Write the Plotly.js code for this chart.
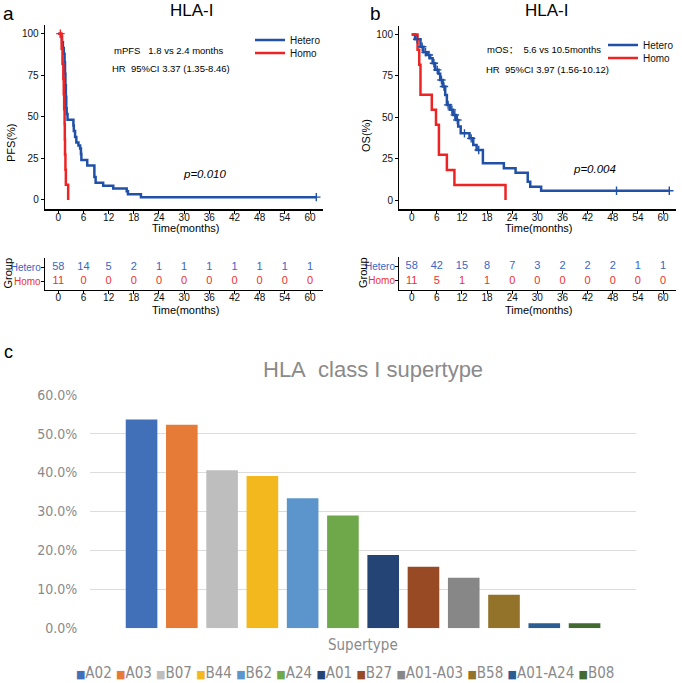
<!DOCTYPE html>
<html>
<head>
<meta charset="utf-8">
<script src="https://cdn.plot.ly/plotly-3.0.1.min.js"></script>
<style>html,body{margin:0;padding:0;background:#fff;}#chart{width:682px;height:683px;}</style>
</head>
<body>
<div id="chart"></div>
<script>
// ---------------- DATA ----------------
// Panel a: PFS Kaplan-Meier (months, %)
const pfsHeteroTime = [0, 0.6, 0.9, 1.1, 1.3, 1.5, 1.6, 1.7, 1.8, 1.9, 2.0, 2.2, 3.6, 3.7, 4.0, 4.3, 4.8, 5.2, 5.4, 5.5, 6.9, 8.6, 8.9, 10.7, 13.1, 16.3, 16.6, 19.7, 61.5];
const pfsHeteroSurv = [100, 98.3, 94.8, 91.4, 87.9, 82.8, 75.9, 69.0, 62.1, 55.2, 51.7, 48.3, 44.8, 41.4, 37.9, 34.5, 32.8, 31.0, 27.6, 24.1, 20.7, 13.8, 10.3, 8.6, 6.9, 5.2, 3.4, 1.7, 1.7];
const pfsHeteroCensor = [61.5];
const pfsHomoTime = [0, 0.8, 1.0, 1.2, 1.3, 1.4, 1.5, 1.55, 1.6, 1.7, 1.8, 2.35];
const pfsHomoSurv = [100, 90.9, 81.8, 72.7, 63.6, 54.5, 45.5, 36.4, 27.3, 18.2, 9.1, 0];
const pfsHomoCensor = [0.5];

// Panel b: OS Kaplan-Meier
const osHeteroTime = [0, 0.8, 2.1, 2.8, 3.7, 4.4, 5.0, 5.6, 6.4, 6.8, 7.4, 8.0, 8.4, 9.2, 9.9, 10.6, 11.1, 11.7, 13.8, 14.7, 15.5, 17.0, 22.0, 24.8, 27.7, 28.3, 30.9, 61.5];
const osHeteroSurv = [100, 97.2, 92.7, 89.3, 87.7, 85.7, 82.7, 78.7, 76.3, 72.6, 68.6, 63.5, 57.5, 54.5, 51.4, 48.4, 44.4, 40.3, 37.3, 33.3, 30.2, 22.2, 19.2, 16.5, 11.0, 8.0, 5.6, 5.6];
const osHeteroCensor = [1.3, 2.5, 3.3, 4.1, 5.3, 6.1, 7.1, 7.7, 8.7, 9.6, 10.3, 10.9, 12.6, 14.2, 16.0, 48.9, 61.5];
const osHomoTime = [0, 1.4, 1.8, 2.1, 4.8, 5.8, 6.5, 8.4, 10.2, 22.4];
const osHomoSurv = [100, 90.9, 81.8, 63.6, 54.5, 45.5, 27.3, 18.2, 9.1, 0];

// Number at risk tables
const riskTimes = [0, 6, 12, 18, 24, 30, 36, 42, 48, 54, 60];
const pfsRiskHetero = [58, 14, 5, 2, 1, 1, 1, 1, 1, 1, 1];
const pfsRiskHomo = [11, 0, 0, 0, 0, 0, 0, 0, 0, 0, 0];
const osRiskHetero = [58, 42, 15, 8, 7, 3, 2, 2, 2, 1, 1];
const osRiskHomo = [11, 5, 1, 1, 0, 0, 0, 0, 0, 0, 0];
const groups = ['Hetero', 'Homo'];
const survTicks = [0, 25, 50, 75, 100];

// Panel c: HLA class I supertype frequency
const supertypes = ['A02', 'A03', 'B07', 'B44', 'B62', 'A24', 'A01', 'B27', 'A01-A03', 'B58', 'A01-A24', 'B08'];
const supertypeFreq = [0.536, 0.523, 0.406, 0.391, 0.334, 0.290, 0.188, 0.158, 0.130, 0.086, 0.013, 0.013];
const supertypeColors = ['#4270B8', '#E57B37', '#BEBEBE', '#F2B81E', '#5B95CB', '#6FA84A', '#244476', '#984A25', '#878787', '#93722A', '#2B5D92', '#436A30'];

// ---------------- STYLE ----------------
const W = 682, H = 683;
const dx = (a, b) => [a / W, b / W];
const dy = (top, bottom) => [1 - bottom / H, 1 - top / H];
const px = v => v / W;
const py = v => 1 - v / H;
const BLUE = '#2151A6', RED = '#EE2424';
const BLUE_T = '#3A66C2', RED_T = '#EE3030';
const KMFONT = 'Liberation Sans, Arial, sans-serif';
const XLFONT = 'Liberation Sans Narrow, DejaVu Sans Condensed, Liberation Sans, sans-serif';
const gray = '#8A8A8A';

function stepAt(times, surv, t) {
  let v = surv[0];
  for (let i = 0; i < times.length; i++) { if (times[i] <= t) v = surv[i]; }
  return v;
}

const traces = [];
function kmTraces(xa, ya, hetT, hetS, hetC, homT, homS, homC, lgHet, lgHom) {
  traces.push({x: hetT, y: hetS, type: 'scatter', mode: 'lines', line: {shape: 'hv', color: BLUE, width: 2.5},
    name: groups[0], xaxis: xa, yaxis: ya, legend: lgHet, hoverinfo: 'skip'});
  traces.push({x: homT, y: homS, type: 'scatter', mode: 'lines', line: {shape: 'hv', color: RED, width: 2.5},
    name: groups[1], xaxis: xa, yaxis: ya, legend: lgHom, hoverinfo: 'skip'});
  if (hetC.length) traces.push({x: hetC, y: hetC.map(t => stepAt(hetT, hetS, t)), type: 'scatter', mode: 'markers',
    marker: {symbol: 'cross-thin', size: 6, line: {color: BLUE, width: 1.4}}, showlegend: false, xaxis: xa, yaxis: ya, hoverinfo: 'skip'});
  if (homC.length) traces.push({x: homC, y: homC.map(t => stepAt(homT, homS, t)), type: 'scatter', mode: 'markers',
    marker: {symbol: 'cross-thin', size: 6, line: {color: RED, width: 1.4}}, showlegend: false, xaxis: xa, yaxis: ya, hoverinfo: 'skip'});
}
kmTraces('x', 'y', pfsHeteroTime, pfsHeteroSurv, pfsHeteroCensor, pfsHomoTime, pfsHomoSurv, pfsHomoCensor, 'legend', 'legend2');
kmTraces('x2', 'y2', osHeteroTime, osHeteroSurv, osHeteroCensor, osHomoTime, osHomoSurv, [], 'legend3', 'legend4');

function riskTraces(xa, ya, het, hom) {
  traces.push({x: riskTimes, y: riskTimes.map(() => 1), text: het.map(String), type: 'scatter', mode: 'text',
    textfont: {family: KMFONT, size: 11, color: BLUE_T}, showlegend: false, xaxis: xa, yaxis: ya, hoverinfo: 'skip'});
  traces.push({x: riskTimes, y: riskTimes.map(() => 0), text: hom.map(String), type: 'scatter', mode: 'text',
    textfont: {family: KMFONT, size: 11, color: RED_T}, showlegend: false, xaxis: xa, yaxis: ya, hoverinfo: 'skip'});
}
riskTraces('x3', 'y3', pfsRiskHetero, pfsRiskHomo);
riskTraces('x4', 'y4', osRiskHetero, osRiskHomo);

traces.push({x: supertypes, y: supertypeFreq, type: 'bar', marker: {color: supertypeColors, line: {width: 0}},
  showlegend: false, xaxis: 'x5', yaxis: 'y5', hoverinfo: 'skip'});

// ---------------- AXES ----------------
function kmX(domain, range, anchor) {
  return {domain, range, anchor, tickvals: riskTimes.slice(), ticks: 'outside', ticklen: 3, tickwidth: 1, tickcolor: '#000',
    showline: true, linecolor: '#000', linewidth: 1.3, showgrid: false, zeroline: false, automargin: false,
    ticklabelstandoff: -5,
    tickfont: {family: KMFONT, size: 10, color: '#111'}};
}
function kmY(domain, anchor) {
  return {domain, anchor, range: [-5.6, 105.2], tickvals: survTicks.slice(), ticks: 'outside', ticklen: 3, tickwidth: 1, tickcolor: '#000',
    showline: true, linecolor: '#000', linewidth: 1.3, showgrid: false, zeroline: false, automargin: false,
    tickfont: {family: KMFONT, size: 10, color: '#111'}};
}
function riskY(domain, range, anchor) {
  return {domain, range, anchor, tickvals: [1, 0],
    ticktext: ['<span style="color:' + BLUE_T + '">' + groups[0] + '</span>', '<span style="color:' + RED_T + '">' + groups[1] + '</span>'],
    ticks: 'outside', ticklen: 3, tickwidth: 1, tickcolor: '#000',
    showline: true, linecolor: '#000', linewidth: 1.3, showgrid: false, zeroline: false, automargin: false,
    ticklabelstandoff: -2,
    tickfont: {family: KMFONT, size: 10, color: '#111'}};
}

function ann(text, x, y, size, opts) {
  return Object.assign({text, x: px(x), y: py(y), xref: 'paper', yref: 'paper', xanchor: 'center', yanchor: 'middle',
    showarrow: false, font: {family: KMFONT, size, color: '#000'}}, opts || {});
}

const legendText = supertypes.map((s, i) => '<span style="color:' + supertypeColors[i] + ';font-size:11px">■</span>' + s).join('\u00A0');

function lg(x, y) {
  return {x: px(x), y: py(y), xanchor: 'left', yanchor: 'middle', bgcolor: 'rgba(0,0,0,0)', borderwidth: 0,
    font: {family: KMFONT, size: 10, color: '#111'}, itemwidth: 30};
}

const layout = {
  width: W, height: H, margin: {l: 0, r: 0, t: 0, b: 0, pad: 0},
  paper_bgcolor: '#fff', plot_bgcolor: 'rgba(0,0,0,0)',
  bargap: 0.215,
  xaxis: kmX(dx(45, 323), [-3.17, 63.1], 'y'),
  yaxis: kmY(dy(25, 209.3), 'x'),
  xaxis2: kmX(dx(399.3, 676), [-2.96, 63.1], 'y2'),
  yaxis2: kmY(dy(26, 209.3), 'x2'),
  xaxis3: kmX(dx(45, 323), [-3.17, 63.1], 'y3'),
  yaxis3: riskY(dy(257.5, 290), [-0.59, 1.66], 'x3'),
  xaxis4: kmX(dx(399.3, 676), [-2.96, 63.1], 'y4'),
  yaxis4: riskY(dy(257.3, 290), [-0.63, 1.65], 'x4'),
  xaxis5: {domain: dx(90, 635.7), anchor: 'y5', range: [-1.28, 12.27], showticklabels: false, ticks: '', showline: false,
    showgrid: false, zeroline: false, automargin: false},
  yaxis5: {domain: dy(394.7, 628.3), anchor: 'x5', range: [0, 0.6], dtick: 0.1, tickformat: '.1%', showgrid: true,
    gridcolor: '#DCDCDC', gridwidth: 1, zeroline: false, showline: false, ticks: 'outside', ticklen: 9,
    tickcolor: 'rgba(0,0,0,0)', automargin: false,
    tickfont: {family: XLFONT, size: 14, color: gray}},
  legend: lg(250, 40),
  legend2: lg(250, 53),
  legend3: lg(603, 45),
  legend4: lg(603, 58),
  annotations: [
    ann('a', 1, 14, 19, {xanchor: 'left'}),
    ann('b', 368, 13, 19, {xanchor: 'left'}),
    ann('c', 2, 352, 18, {xanchor: 'left'}),
    ann('HLA-I', 191.5, 10, 17),
    ann('HLA-I', 546, 11, 17),
    ann('mPFS\u00A0\u00A0 1.8 vs 2.4 months', 112, 51, 9.5, {xanchor: 'left'}),
    ann('HR\u00A0 95%CI 3.37 (1.35-8.46)', 110, 68, 9.5, {xanchor: 'left'}),
    ann('<i>p=0.010</i>', 181, 174, 11.5, {xanchor: 'left'}),
    ann('mOS：\u00A0 5.6 vs 10.5months', 485, 49, 9.5, {xanchor: 'left', font: {family: KMFONT + ', Noto Sans CJK SC', size: 9.5, color: '#000'}}),
    ann('HR\u00A0 95%CI 3.97 (1.56-10.12)', 484, 69, 9.5, {xanchor: 'left'}),
    ann('<i>p=0.004</i>', 571, 169, 11.5, {xanchor: 'left'}),
    ann('Time(months)', 185, 228, 11),
    ann('Time(months)', 538, 228, 11),
    ann('Time(months)', 185, 309.5, 11),
    ann('Time(months)', 538, 309.5, 11),
    ann('PFS(%)', 11, 143, 11, {textangle: -90}),
    ann('OS(%)', 366, 136, 11, {textangle: -90}),
    ann('Group', 7.5, 273, 11, {textangle: -90}),
    ann('Group', 363, 273, 11, {textangle: -90}),
    ann('HLA\u00A0 class I supertype', 373, 369, 22, {font: {family: KMFONT, size: 22, color: gray}}),
    ann('Supertype', 363, 645, 15, {font: {family: XLFONT, size: 15, color: gray}}),
    ann(legendText, 345, 673, 15, {font: {family: XLFONT, size: 15, color: gray}})
  ]
};

Plotly.newPlot('chart', traces, layout, {staticPlot: true, displayModeBar: false});
</script>
</body>
</html>
